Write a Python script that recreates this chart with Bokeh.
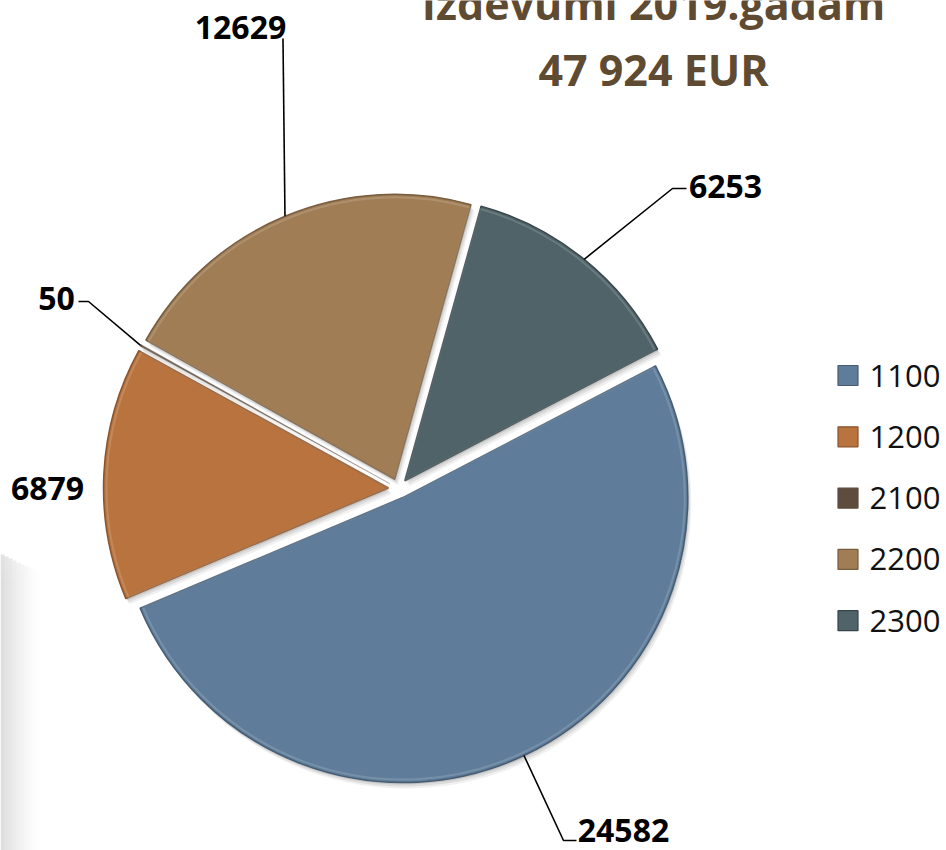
import numpy as np
from bokeh.plotting import figure
from bokeh.models import Range1d
from bokeh.core.properties import value
from bokeh.embed import file_html
from bokeh.resources import INLINE

# ---- data ----
categories = ["1100", "1200", "2100", "2200", "2300"]
slice_values = [24582, 6879, 50, 10160, 6253]          # slice sizes as drawn (sum = 47 924)
label_texts = ["24582", "6879", "50", "12629", "6253"]  # data labels as printed
colors = ["#5F7D9A", "#B8733E", "#5E4C3E", "#A07D55", "#4F6368"]
edge_colors = ["#465C72", "#8A532B", "#5E4C3E", "#775C3D", "#36454A"]
title_lines = ["Izdevumi 2019.gadam", "47 924 EUR"]

# ---- layout ----
W, H = 946, 850
cx, cy, R = 398.0, 362.0, 285.0
explode = 10.0
start_deg = 27.5
FONT = value("Open Sans")

p = figure(width=W, height=H, output_backend="svg", toolbar_location=None,
           x_range=Range1d(0, W), y_range=Range1d(0, H), min_border=0,
           x_axis_location=None, y_axis_location=None)
p.grid.visible = False
p.outline_line_color = None
p.background_fill_color = "white"
p.border_fill_color = "white"

# faint grey band at left edge (background artefact)
for i in range(10):
    p.quad(left=i * 4, right=(i + 1) * 4, bottom=0, top=296 - i * 2,
           fill_color="#000000", fill_alpha=0.13 * (1 - i / 10.0) ** 1.5, line_color=None)
for j in range(6):
    p.quad(left=0, right=40, bottom=296 - j * 6, top=302 - j * 6,
           fill_color="#ffffff", fill_alpha=0.16 * (6 - j) / 6.0, line_color=None)

vals = np.array(slice_values, dtype=float)
frac = vals / vals.sum()
a0 = np.deg2rad(start_deg)
ends = a0 - np.cumsum(frac) * 2 * np.pi
starts = np.concatenate([[a0], ends[:-1]])
mids = (starts + ends) / 2
ox = cx + explode * np.cos(mids)
oy = cy + explode * np.sin(mids)

# shadows
for off, al in [(6, 0.06), (4, 0.08), (2, 0.10)]:
    p.wedge(x=ox + off * 0.6, y=oy - off, radius=R, start_angle=ends, end_angle=starts,
            fill_color="#000000", fill_alpha=al, line_color=None)

# slices
p.wedge(x=ox, y=oy, radius=R, start_angle=ends, end_angle=starts,
        fill_color=colors, line_color=edge_colors, line_width=[1.5, 1.5, 0.3, 1.5, 1.5])
# soft highlight rim
p.wedge(x=ox, y=oy, radius=R - 3, start_angle=ends, end_angle=starts,
        fill_color=None, line_color="#ffffff", line_alpha=0.15, line_width=2)

# arc points for leaders
ax = ox + R * np.cos(mids)
ay = oy + R * np.sin(mids)

lw = 1.6
# 24582 leader
p.line([ax[0], 563, 576], [ay[0], 10, 10], line_color="black", line_width=lw)
# 50 leader
p.line([ax[2], 88, 78], [ay[2], 549, 549], line_color="black", line_width=lw)
# 12629 leader
p.line([ax[3], ax[3] - 2], [ay[3], 812], line_color="black", line_width=lw)
# 6253 leader
p.line([ax[4], 672, 686], [ay[4], 662, 662], line_color="black", line_width=lw)

lab_x = [623, 47, 56, 240, 725]
lab_y = [20, 362, 552, 823, 664]
p.text(x=lab_x, y=lab_y, text=label_texts, text_font=FONT, text_font_style="bold",
       text_font_size="32px", text_align="center", text_baseline="middle", text_color="black")

# title (top line partly cut off by the top edge, as in the original)
p.text(x=[653, 653], y=[847, 781], text=title_lines, text_font=FONT, text_font_style="bold",
       text_font_size="43px", text_align="center", text_baseline="alphabetic", text_color="#5F4A32")

# legend
leg_top, leg_step = 475.0, 61.3
leg_y = [leg_top - i * leg_step for i in range(len(categories))]
p.rect(x=[847.5] * len(categories), y=leg_y, width=20, height=20,
       fill_color=colors, line_color=edge_colors, line_width=1.2)
p.text(x=[869] * len(categories), y=leg_y, text=categories, text_font=FONT,
       text_font_size="31px", text_align="left", text_baseline="middle", text_color="#111111")

open("out.html", "w").write(file_html(p, INLINE))
